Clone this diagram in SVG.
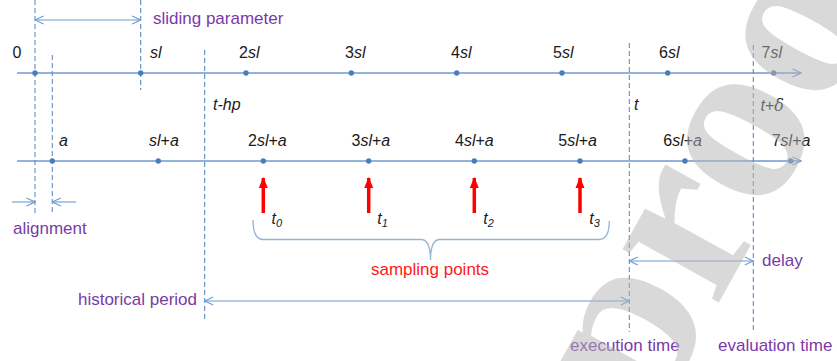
<svg xmlns="http://www.w3.org/2000/svg" width="837" height="361" viewBox="0 0 837 361">
<defs>
<style>
.ax{stroke:#6f98cf;stroke-width:1.3;fill:none}
.dash{stroke:#5b8bc9;stroke-width:1.1;stroke-dasharray:5,3;fill:none}
.dim{stroke:#6f98cf;stroke-width:1.1;fill:none}
.dot{fill:#4a7ebb}
.lbl{font-family:"Liberation Sans",Arial,sans-serif;font-size:16px;fill:#1a1a1a}
.pur{font-family:"Liberation Sans",Arial,sans-serif;font-size:17px;fill:#7a3aa8}
.red{font-family:"Liberation Sans",Arial,sans-serif;font-size:17px;fill:#ff1a1a}
.it{font-style:italic}
.sub{font-size:11px;font-style:italic}
.ra{stroke:#ff0000;stroke-width:3.5;fill:none}
.brace{stroke:#95b3d7;stroke-width:1.3;fill:none}
</style>
<marker id="open" viewBox="0 0 10 10" refX="9.5" refY="5" markerWidth="10" markerHeight="10" markerUnits="userSpaceOnUse" orient="auto-start-reverse">
<path d="M1,1 L9.5,5 L1,9" fill="none" stroke="#6f98cf" stroke-width="1.1"/>
</marker>
<marker id="redhead" viewBox="0 0 10 10" refX="5" refY="1" markerWidth="10" markerHeight="11" markerUnits="userSpaceOnUse" orient="0">
<path d="M0.5,11 L5,0 L9.5,11 Z" fill="#ff0000"/>
</marker>
</defs>
<rect width="837" height="361" fill="#ffffff"/>

<g id="connectors">
<line class="ax" x1="17" y1="73" x2="801" y2="73" marker-end="url(#open)"/>
<line class="ax" x1="17" y1="161" x2="801" y2="161" marker-end="url(#open)"/>
<line class="dash" x1="35" y1="0" x2="35" y2="213"/>
<line class="dash" x1="52.3" y1="55" x2="52.3" y2="213"/>
<line class="dash" x1="140.7" y1="0" x2="140.7" y2="90"/>
<line class="dash" x1="204.7" y1="50" x2="204.7" y2="319"/>
<line class="dash" x1="629.3" y1="43" x2="629.3" y2="332"/>
<line class="dash" x1="753.3" y1="45" x2="753.3" y2="333"/>
<line class="dim" x1="35" y1="20" x2="140.7" y2="20" marker-start="url(#open)" marker-end="url(#open)"/>
<line class="dim" x1="12" y1="202" x2="35" y2="202" marker-end="url(#open)"/>
<line class="dim" x1="76" y1="202" x2="52.3" y2="202" marker-end="url(#open)"/>
<line class="dim" x1="204.7" y1="301" x2="629.3" y2="301" marker-start="url(#open)" marker-end="url(#open)"/>
<line class="dim" x1="629.3" y1="261" x2="753.3" y2="261" marker-start="url(#open)" marker-end="url(#open)"/>
<line class="ra" x1="263.3" y1="213" x2="263.3" y2="178" marker-end="url(#redhead)"/>
<line class="ra" x1="368.7" y1="213" x2="368.7" y2="178" marker-end="url(#redhead)"/>
<line class="ra" x1="474.3" y1="213" x2="474.3" y2="178" marker-end="url(#redhead)"/>
<line class="ra" x1="580" y1="213" x2="580" y2="178" marker-end="url(#redhead)"/>
<path class="brace" d="M253,220 Q253,239.5 263,239.5 L421,239.5 Q430.5,239.5 430.5,260 Q430.5,239.5 440,239.5 L599,239.5 Q609.3,239.5 609.3,221"/>
</g>

<g id="top-axis">
<circle class="dot" cx="35" cy="73" r="2.7"/>
<circle class="dot" cx="140.7" cy="73" r="2.7"/>
<circle class="dot" cx="246" cy="73" r="2.7"/>
<circle class="dot" cx="351.3" cy="73" r="2.7"/>
<circle class="dot" cx="456.7" cy="73" r="2.7"/>
<circle class="dot" cx="562" cy="73" r="2.7"/>
<circle class="dot" cx="667.7" cy="73" r="2.7"/>
<circle class="dot" cx="773.7" cy="73" r="2.7"/>
<text class="lbl" x="12.5" y="58">0</text>
<text class="lbl it" x="150" y="58">sl</text>
<text class="lbl" x="239" y="58">2<tspan class="it">sl</tspan></text>
<text class="lbl" x="345" y="58">3<tspan class="it">sl</tspan></text>
<text class="lbl" x="451" y="58">4<tspan class="it">sl</tspan></text>
<text class="lbl" x="553" y="58">5<tspan class="it">sl</tspan></text>
<text class="lbl" x="659" y="58">6<tspan class="it">sl</tspan></text>
<text class="lbl" x="761.5" y="58">7<tspan class="it">sl</tspan></text>
</g>

<g id="time-marks">
<text class="lbl it" x="213" y="110">t-hp</text>
<text class="lbl it" x="634" y="110">t</text>
<text class="lbl" x="760.5" y="111"><tspan class="it">t</tspan>+<tspan font-family="'DejaVu Serif',serif" font-style="italic">δ</tspan></text>
</g>

<g id="bottom-axis">
<circle class="dot" cx="52.3" cy="161" r="2.7"/>
<circle class="dot" cx="158.3" cy="161" r="2.7"/>
<circle class="dot" cx="263.3" cy="161" r="2.7"/>
<circle class="dot" cx="368.7" cy="161" r="2.7"/>
<circle class="dot" cx="474.3" cy="161" r="2.7"/>
<circle class="dot" cx="580" cy="161" r="2.7"/>
<circle class="dot" cx="685" cy="161" r="2.7"/>
<circle class="dot" cx="790.7" cy="161" r="2.7"/>
<text class="lbl it" x="59" y="146">a</text>
<text class="lbl" x="149" y="146"><tspan class="it">sl</tspan>+<tspan class="it">a</tspan></text>
<text class="lbl" x="248" y="146">2<tspan class="it">sl</tspan>+<tspan class="it">a</tspan></text>
<text class="lbl" x="351.5" y="146">3<tspan class="it">sl</tspan>+<tspan class="it">a</tspan></text>
<text class="lbl" x="455" y="146">4<tspan class="it">sl</tspan>+<tspan class="it">a</tspan></text>
<text class="lbl" x="558.3" y="146">5<tspan class="it">sl</tspan>+<tspan class="it">a</tspan></text>
<text class="lbl" x="663.3" y="146">6<tspan class="it">sl</tspan>+<tspan class="it">a</tspan></text>
<text class="lbl" x="771.7" y="146">7<tspan class="it">sl</tspan>+<tspan class="it">a</tspan></text>
</g>

<g id="sampling">
<text class="lbl it" x="271.5" y="224">t<tspan class="sub" dy="3">0</tspan></text>
<text class="lbl it" x="377.3" y="224">t<tspan class="sub" dy="3">1</tspan></text>
<text class="lbl it" x="483.3" y="224">t<tspan class="sub" dy="3">2</tspan></text>
<text class="lbl it" x="589.3" y="224">t<tspan class="sub" dy="3">3</tspan></text>
<text class="red" x="430" y="275" text-anchor="middle">sampling points</text>
</g>

<g id="labels">
<text class="pur" x="153" y="24">sliding parameter</text>
<text class="pur" x="13" y="234">alignment</text>
<text class="pur" x="197" y="305" text-anchor="end">historical period</text>
<text class="pur" x="762" y="266">delay</text>
<text class="pur" x="570" y="351">execution time</text>
<text class="pur" x="718" y="351">evaluation time</text>
</g>

<g id="watermark" opacity="0.5">
<text x="651" y="425" transform="rotate(-61 651 425)" font-family="'Liberation Serif',serif" font-weight="bold" font-size="240" fill="#b5b5b5">proof</text>
</g>
</svg>
